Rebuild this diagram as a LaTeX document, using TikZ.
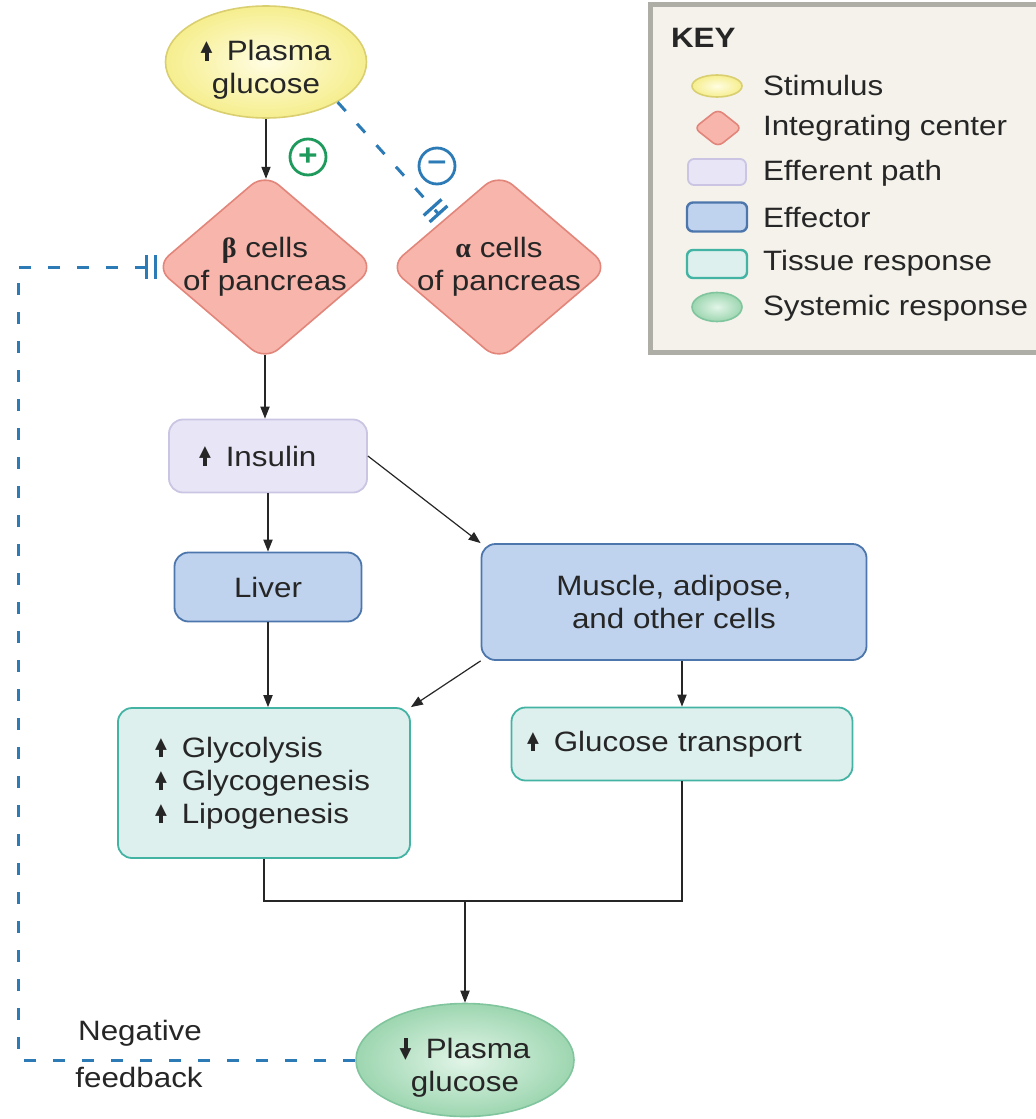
\documentclass[tikz,border=0pt]{standalone}
\usepackage{fontspec}
\setmainfont{Liberation Sans}[FakeStretch=1.12]
\newfontfamily\arrowfont{DejaVu Sans}
\newfontfamily\greekfont{Liberation Serif}
\usetikzlibrary{shapes.geometric,arrows.meta}
\definecolor{stimline}{HTML}{D9CF70}
\definecolor{stimin}{HTML}{FFFDE2}
\definecolor{stimout}{HTML}{F6EE8E}
\definecolor{integline}{HTML}{E2857A}
\definecolor{integfill}{HTML}{F7B5AB}
\definecolor{effline}{HTML}{CBC5E3}
\definecolor{efffill}{HTML}{E8E5F6}
\definecolor{ectline}{HTML}{4C76AC}
\definecolor{ectfill}{HTML}{C0D3EE}
\definecolor{tisline}{HTML}{43B3A4}
\definecolor{tisfill}{HTML}{DDF0EE}
\definecolor{sysline}{HTML}{80C59D}
\definecolor{sysin}{HTML}{E2F5E8}
\definecolor{sysout}{HTML}{9DD6B0}
\definecolor{fbblue}{HTML}{2C7BB6}
\definecolor{plusgreen}{HTML}{1E9B5C}
\definecolor{keyfill}{HTML}{F4F2EB}
\definecolor{keyline}{HTML}{AEADA6}
\newcommand\figfont{\fontsize{14pt}{16.5pt}\selectfont}
\newcommand\upar{\ooalign{\hfil\rule{0.14em}{0.4em}\hfil\cr\hfil\raisebox{0.33em}{\scalebox{0.55}{\arrowfont ▲}}\hfil\cr}\hspace{0.2em}}
\newcommand\downar{\ooalign{\hfil\raisebox{0.3em}{\rule{0.14em}{0.42em}}\hfil\cr\hfil\scalebox{0.55}{\arrowfont ▼}\hfil\cr}\hspace{0.2em}}
\newcommand\zw[1]{\makebox[0pt]{#1}}
\newcommand\gk[1]{{\greekfont\bfseries #1}}

\begin{document}
\begin{tikzpicture}[x=0.5pt, y=-0.5pt,
  txt/.style={font=\figfont, align=center, text=black!85},
  stim/.style={ellipse, draw=stimline, line width=0.8pt, inner color=stimin, outer color=stimout, inner sep=1pt, txt},
  sys/.style={ellipse, draw=sysline, line width=0.8pt, inner color=sysin, outer color=sysout, inner sep=1pt, txt},
  integ/.style={diamond, draw=integline, fill=integfill, line width=0.8pt, rounded corners=9pt, inner sep=0pt, minimum width=110pt, minimum height=94pt, txt},
  box/.style={rectangle, rounded corners=7pt, line width=0.9pt, txt},
  efferent/.style={box, draw=effline, fill=efffill},
  effector/.style={box, draw=ectline, fill=ectfill},
  tissue/.style={box, draw=tisline, fill=tisfill},
  sign/.style={circle, line width=1.4pt, minimum size=18pt, inner sep=0pt, font=\fontsize{15pt}{15pt}\selectfont\bfseries},
  keyframe/.style={fill=keyfill, draw=keyline, line width=2.5pt},
  arr/.style={-{Triangle[length=6pt,width=4.6pt]}, line width=0.6pt, black!85},
  link/.style={line width=0.6pt, black!85},
  fb/.style={draw=fbblue, line width=1.5pt, dash pattern=on 6pt off 8.5pt},
  bars/.style={-{Bar[width=12pt,line width=1.6pt,sep=2.8pt]Bar[width=12pt,line width=1.6pt]}}]
\useasboundingbox (0,0) rectangle (1035,1119);

% main loop
\node[stim, minimum width=100.5pt, minimum height=56pt] (hi) at (266,62) {\rule{0pt}{18pt}\upar\ Plasma\\glucose};
\node[integ] (beta) at (265,267) {\zw{\gk{β} cells}\\\zw{of pancreas}};
\node[integ] (alpha) at (499,267) {\zw{\gk{α} cells}\\\zw{of pancreas}};
\node[sign, draw=plusgreen, text=plusgreen] (plus) at (308,157) {+};
\node[sign, draw=fbblue, text=fbblue] (minus) at (437,166) {--};
\node[efferent, minimum width=99pt, minimum height=36.5pt, text width=69pt, inner xsep=15pt, align=left] (ins) at (268,456) {\upar\ Insulin};
\node[effector, minimum width=93.5pt, minimum height=34.5pt] (liver) at (268,587) {Liver};
\node[effector, minimum width=192.5pt, minimum height=58pt] (mus) at (674,602) {Muscle, adipose,\\and other cells};
\node[tissue, minimum width=146pt, minimum height=75pt, text width=109pt, inner xsep=18.5pt, align=left] (glyco) at (264,783) {\upar\ Glycolysis\\\upar\ Glycogenesis\\\upar\ Lipogenesis};
\node[tissue, minimum width=170.5pt, minimum height=36.5pt, text width=155pt, inner xsep=7pt, align=left] (gt) at (682,744) {\upar\ Glucose transport};
\node[sys, minimum width=109pt, minimum height=56.5pt] (lo) at (465,1060) {\rule{0pt}{18pt}\downar\ Plasma\\glucose};
\node[txt] (neg) at (140,1033) {Negative};
\node[txt] (feed) at (139,1077) {feedback};
\coordinate (merge) at (465,901);
\coordinate (fbx) at (18,0);

\draw[arr, shorten >=-3.3pt] (hi.south) -- (hi.south |- beta.north);
\draw[arr, shorten <=-3.3pt] (beta.south) -- (beta.south |- ins.north);
\draw[arr] (ins.south) -- (liver.north);
\draw[arr] (ins.east) -- (mus.north west);
\draw[arr] (liver.south) -- (liver.south |- glyco.north);
\draw[arr] (mus.south west) -- (glyco.north east);
\draw[arr] (mus.south -| gt.north) -- (gt.north);
\draw[link] (glyco.south) |- (merge) -| (gt.south);
\draw[arr] (merge) -- (lo.north);
\draw[fb, bars, shorten >=3pt] (hi.south east) -- (alpha.north west);
\draw[fb, bars, shorten >=-1.5pt] (lo.west) -- (lo.west -| fbx) |- (beta.west);

% key
\path[keyframe] (650,4) rectangle (1042,352);
\node[txt, anchor=west, font=\figfont\bfseries] (keyhead) at (664,38) {KEY};
\node[stim, minimum width=25pt, minimum height=11pt, inner sep=0pt] (kstim) at (717,86) {};
\node[integ, minimum width=24pt, minimum height=19pt, rounded corners=3pt] (kinteg) at (718,128) {};
\node[efferent, minimum width=29pt, minimum height=13pt, rounded corners=3pt, inner sep=0pt] (keff) at (717,172) {};
\node[effector, minimum width=30pt, minimum height=14.5pt, rounded corners=3pt, inner sep=0pt, line width=1.2pt] (kect) at (717,217) {};
\node[tissue, minimum width=30pt, minimum height=14pt, rounded corners=3pt, inner sep=0pt, line width=1.2pt] (ktis) at (717,264) {};
\node[sys, minimum width=25pt, minimum height=14.5pt, inner sep=0pt] (ksys) at (717,307) {};
\node[txt, anchor=west] (kstimtxt) at (756,85) {Stimulus};
\node[txt, anchor=west] (kintegtxt) at (756,128) {Integrating center};
\node[txt, anchor=west] (kefftxt) at (756,173) {Efferent path};
\node[txt, anchor=west] (kecttxt) at (756,218) {Effector};
\node[txt, anchor=west] (ktistxt) at (756,263) {Tissue response};
\node[txt, anchor=west] (ksystxt) at (756,308) {Systemic response};
\end{tikzpicture}
\end{document}
